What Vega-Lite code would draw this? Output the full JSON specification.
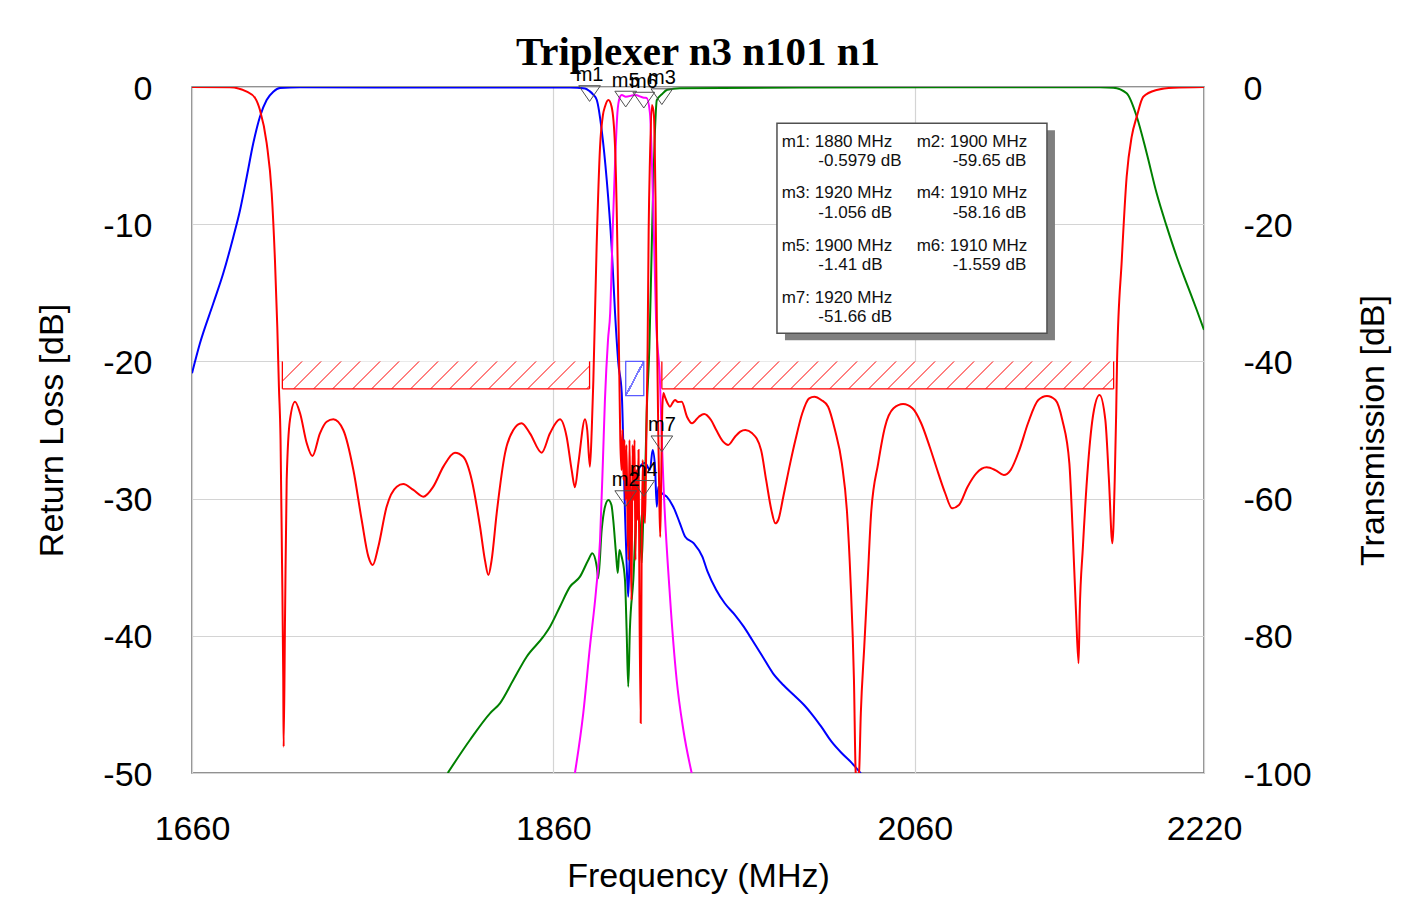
{
  "$schema": "https://vega.github.io/schema/vega-lite/v6.json",
  "width": 1012,
  "height": 686,
  "autosize": {"type": "none"},
  "padding": {"left": 192, "top": 87, "right": 212, "bottom": 145},
  "background": "#ffffff",
  "title": {"text": "Triplexer n3 n101 n1", "font": "Liberation Serif", "fontSize": 41, "fontWeight": "bold", "color": "#000000", "anchor": "middle", "baseline": "alphabetic", "offset": -41, "frame": "group"},
  "config": {
    "view": {"stroke": "#6e6e6e", "strokeWidth": 1.5},
    "axis": {"labelFont": "Liberation Sans", "labelFontSize": 34, "labelColor": "#000000", "titleFont": "Liberation Sans", "titleFontSize": 34, "titleFontWeight": "normal", "titleColor": "#000000", "ticks": false, "domain": false, "gridColor": "#d4d4d4", "gridWidth": 1.2, "labelFlush": false, "labelOverlap": false}
  },
  "datasets": {
    "mask": [
      {"band": "n3", "f1": 1710, "f2": 1880, "top": -20, "bot": -22},
      {"band": "n1", "f1": 1920, "f2": 2170, "top": -20, "bot": -22}
    ],
    "iso": [
      {"f1": 1900, "f2": 1910, "top": -40, "bot": -45}
    ],
    "box": [
      {"f1": 1983.7, "f2": 2133.1, "top": -2.65, "bot": -17.95}
    ],
    "readout": [
      {"t": "m1: 1880 MHz", "f": 1986.3, "rl": -3.99},
      {"t": "-0.5979 dB", "f": 2006.6, "rl": -5.37},
      {"t": "m2: 1900 MHz", "f": 2061.0, "rl": -3.99},
      {"t": "-59.65 dB", "f": 2080.9, "rl": -5.37},
      {"t": "m3: 1920 MHz", "f": 1986.3, "rl": -7.75},
      {"t": "-1.056 dB", "f": 2006.6, "rl": -9.16},
      {"t": "m4: 1910 MHz", "f": 2061.0, "rl": -7.75},
      {"t": "-58.16 dB", "f": 2080.9, "rl": -9.16},
      {"t": "m5: 1900 MHz", "f": 1986.3, "rl": -11.59},
      {"t": "-1.41 dB", "f": 2006.6, "rl": -13.0},
      {"t": "m6: 1910 MHz", "f": 2061.0, "rl": -11.59},
      {"t": "-1.559 dB", "f": 2080.9, "rl": -13.0},
      {"t": "m7: 1920 MHz", "f": 1986.3, "rl": -15.4},
      {"t": "-51.66 dB", "f": 2006.6, "rl": -16.79}
    ],
    "markers": [
      {"m": "m1", "f": 1880, "tr": -0.5979},
      {"m": "m2", "f": 1900, "tr": -59.65},
      {"m": "m3", "f": 1920, "tr": -1.056},
      {"m": "m4", "f": 1910, "tr": -58.16},
      {"m": "m5", "f": 1900, "tr": -1.41},
      {"m": "m6", "f": 1910, "tr": -1.559},
      {"m": "m7", "f": 1920, "tr": -51.66}
    ],
    "rl": [
      {"f": 1660, "rl": 0}, {"f": 1681, "rl": -0.02}, {"f": 1690.3, "rl": -0.34}, {"f": 1694.9, "rl": -0.8},
      {"f": 1697.6, "rl": -1.68}, {"f": 1701.3, "rl": -4.08}, {"f": 1704.1, "rl": -7.73}, {"f": 1705.9, "rl": -12.61},
      {"f": 1707.2, "rl": -17.49}, {"f": 1708.1, "rl": -21.87}, {"f": 1709, "rl": -25.73}, {"f": 1709.8, "rl": -34.48},
      {"f": 1710.5, "rl": -43.22}, {"f": 1710.7, "rl": -48.08}, {"f": 1711.5, "rl": -38.36}, {"f": 1712.4, "rl": -28.64},
      {"f": 1714.2, "rl": -24.27}, {"f": 1717, "rl": -22.94}, {"f": 1719.8, "rl": -23.78}, {"f": 1723.5, "rl": -25.97},
      {"f": 1726.6, "rl": -26.9}, {"f": 1730.8, "rl": -25.24}, {"f": 1734.5, "rl": -24.4}, {"f": 1738.2, "rl": -24.22},
      {"f": 1743.7, "rl": -25}, {"f": 1749.3, "rl": -27.92}, {"f": 1753.9, "rl": -31.56}, {"f": 1757.6, "rl": -34.23},
      {"f": 1760, "rl": -34.84}, {"f": 1763.1, "rl": -33.51}, {"f": 1767.7, "rl": -30.59}, {"f": 1773.3, "rl": -29.13},
      {"f": 1776.9, "rl": -28.94}, {"f": 1782.5, "rl": -29.37}, {"f": 1788, "rl": -29.86}, {"f": 1793.5, "rl": -29.13},
      {"f": 1799.1, "rl": -27.67}, {"f": 1805.5, "rl": -26.65}, {"f": 1810.1, "rl": -26.95}, {"f": 1814.8, "rl": -28.64},
      {"f": 1819.4, "rl": -32.05}, {"f": 1822.1, "rl": -34.48}, {"f": 1824, "rl": -35.57}, {"f": 1825.8, "rl": -34.48},
      {"f": 1828.6, "rl": -31.07}, {"f": 1833.2, "rl": -26.7}, {"f": 1837.8, "rl": -25}, {"f": 1842.4, "rl": -24.51},
      {"f": 1847, "rl": -25.24}, {"f": 1853.5, "rl": -26.65}, {"f": 1858.1, "rl": -25.24}, {"f": 1863.6, "rl": -24.22},
      {"f": 1867.3, "rl": -25.49}, {"f": 1870.1, "rl": -27.92}, {"f": 1871.9, "rl": -29.18}, {"f": 1873.8, "rl": -27.43},
      {"f": 1877.5, "rl": -24.22}, {"f": 1878.7, "rl": -25}, {"f": 1880.2, "rl": -27.67}, {"f": 1881.2, "rl": -25},
      {"f": 1882.1, "rl": -21.36}, {"f": 1883.9, "rl": -11.64}, {"f": 1885.8, "rl": -4.35}, {"f": 1887.4, "rl": -2.04},
      {"f": 1888.5, "rl": -1.44}, {"f": 1890.4, "rl": -0.95}, {"f": 1892.2, "rl": -1.44}, {"f": 1894.1, "rl": -4.35},
      {"f": 1895.4, "rl": -11.64}, {"f": 1896.5, "rl": -21.36}, {"f": 1897, "rl": -25.73}, {"f": 1897.7, "rl": -27.92},
      {"f": 1898.2, "rl": -25}, {"f": 1898.8, "rl": -28.64}, {"f": 1899.3, "rl": -25.73}, {"f": 1899.9, "rl": -30.1},
      {"f": 1900.4, "rl": -26.09}, {"f": 1901, "rl": -31.56}, {"f": 1901.5, "rl": -34.48}, {"f": 1902.1, "rl": -25.73},
      {"f": 1902.6, "rl": -31.56}, {"f": 1903.2, "rl": -37.39}, {"f": 1903.8, "rl": -26.09}, {"f": 1904.3, "rl": -30.1},
      {"f": 1904.9, "rl": -25.73}, {"f": 1905.4, "rl": -34.48}, {"f": 1906, "rl": -27.92}, {"f": 1906.5, "rl": -31.56},
      {"f": 1907.1, "rl": -26.46}, {"f": 1907.6, "rl": -37.39}, {"f": 1908.3, "rl": -46.36}, {"f": 1908.8, "rl": -34.48},
      {"f": 1909.4, "rl": -27.19}, {"f": 1909.9, "rl": -30.1}, {"f": 1910.7, "rl": -31.78}, {"f": 1911.4, "rl": -25.73},
      {"f": 1912.1, "rl": -19.17}, {"f": 1912.7, "rl": -10.42}, {"f": 1913.4, "rl": -5.32}, {"f": 1914.5, "rl": -1.31},
      {"f": 1915.6, "rl": -2.04}, {"f": 1916.5, "rl": -8.24}, {"f": 1917.3, "rl": -17.71}, {"f": 1918, "rl": -25},
      {"f": 1918.6, "rl": -30.1}, {"f": 1919.1, "rl": -32.8}, {"f": 1919.7, "rl": -27.92}, {"f": 1920.2, "rl": -23.54},
      {"f": 1920.9, "rl": -22.3}, {"f": 1921.7, "rl": -22.59}, {"f": 1923.1, "rl": -23.03}, {"f": 1924.5, "rl": -23.3},
      {"f": 1926.2, "rl": -22.96}, {"f": 1927.3, "rl": -22.81}, {"f": 1928.9, "rl": -22.96}, {"f": 1931, "rl": -22.94},
      {"f": 1933.9, "rl": -24.03}, {"f": 1936.7, "rl": -24.51}, {"f": 1940.5, "rl": -24.03}, {"f": 1943.4, "rl": -23.83},
      {"f": 1947.2, "rl": -24.27}, {"f": 1950.1, "rl": -25}, {"f": 1953.9, "rl": -25.85}, {"f": 1956.7, "rl": -26.09},
      {"f": 1960.5, "rl": -25.49}, {"f": 1963.4, "rl": -25.12}, {"f": 1966.2, "rl": -25}, {"f": 1970, "rl": -25.24},
      {"f": 1974.9, "rl": -26.46}, {"f": 1977.7, "rl": -28.64}, {"f": 1980.6, "rl": -30.83}, {"f": 1982.8, "rl": -31.8},
      {"f": 1984.4, "rl": -31.56}, {"f": 1987.2, "rl": -29.86}, {"f": 1991, "rl": -27.43}, {"f": 1993.9, "rl": -25.73},
      {"f": 1997.7, "rl": -23.78}, {"f": 2001.5, "rl": -22.69}, {"f": 2004.4, "rl": -22.57}, {"f": 2008.2, "rl": -22.81},
      {"f": 2012, "rl": -23.3}, {"f": 2015.8, "rl": -25}, {"f": 2019.6, "rl": -27.43}, {"f": 2022.5, "rl": -31.07},
      {"f": 2024.4, "rl": -35.93}, {"f": 2026.3, "rl": -43.22}, {"f": 2027.3, "rl": -50.02}, {"f": 2028.2, "rl": -50.5},
      {"f": 2029.1, "rl": -50.02}, {"f": 2030.1, "rl": -45.65}, {"f": 2032, "rl": -40.79}, {"f": 2033.9, "rl": -35.93},
      {"f": 2035.8, "rl": -31.07}, {"f": 2039.7, "rl": -27.43}, {"f": 2043.5, "rl": -24.76}, {"f": 2048.2, "rl": -23.42},
      {"f": 2053.5, "rl": -23.1}, {"f": 2058.7, "rl": -23.42}, {"f": 2063.5, "rl": -24.51}, {"f": 2068.2, "rl": -26.22},
      {"f": 2073, "rl": -28.16}, {"f": 2076.8, "rl": -29.61}, {"f": 2080.6, "rl": -30.71}, {"f": 2084.4, "rl": -30.47},
      {"f": 2089.2, "rl": -29.13}, {"f": 2094, "rl": -28.16}, {"f": 2099.7, "rl": -27.72}, {"f": 2104.5, "rl": -27.92},
      {"f": 2109.2, "rl": -28.28}, {"f": 2113, "rl": -27.92}, {"f": 2117.8, "rl": -26.46}, {"f": 2122.6, "rl": -24.51},
      {"f": 2128.3, "rl": -22.81}, {"f": 2133.1, "rl": -22.52}, {"f": 2137.8, "rl": -22.81}, {"f": 2141.6, "rl": -24.27},
      {"f": 2145.5, "rl": -27.43}, {"f": 2147.3, "rl": -32.29}, {"f": 2149.2, "rl": -38.36}, {"f": 2150.6, "rl": -42},
      {"f": 2151.2, "rl": -38.36}, {"f": 2153, "rl": -33.51}, {"f": 2155.9, "rl": -27.43}, {"f": 2158.8, "rl": -23.78},
      {"f": 2162.2, "rl": -22.45}, {"f": 2165.4, "rl": -24.27}, {"f": 2167.4, "rl": -28.64}, {"f": 2169.3, "rl": -33.26},
      {"f": 2170.6, "rl": -28.64}, {"f": 2171.4, "rl": -23.78}, {"f": 2171.9, "rl": -19.9}, {"f": 2174.5, "rl": -12.61},
      {"f": 2177.2, "rl": -6.54}, {"f": 2180, "rl": -3.62}, {"f": 2182.8, "rl": -2.16}, {"f": 2186.4, "rl": -0.71},
      {"f": 2193.8, "rl": -0.22}, {"f": 2203, "rl": -0.05}, {"f": 2220, "rl": 0}
    ],
    "tr": [
      {"s": "n3", "f": 1660, "tr": -41.73}, {"s": "n3", "f": 1664.4, "tr": -37.36}, {"s": "n3", "f": 1671.8, "tr": -31.53},
      {"s": "n3", "f": 1677.3, "tr": -27.16}, {"s": "n3", "f": 1682.9, "tr": -21.82}, {"s": "n3", "f": 1686.6, "tr": -17.93},
      {"s": "n3", "f": 1690.3, "tr": -13.08}, {"s": "n3", "f": 1693.9, "tr": -8.21}, {"s": "n3", "f": 1697.6, "tr": -4.33},
      {"s": "n3", "f": 1701.3, "tr": -1.9}, {"s": "n3", "f": 1705, "tr": -0.69}, {"s": "n3", "f": 1708.7, "tr": -0.15},
      {"s": "n3", "f": 1719.8, "tr": -0.04}, {"s": "n3", "f": 1802.8, "tr": -0.07}, {"s": "n3", "f": 1869.2, "tr": -0.07},
      {"s": "n3", "f": 1877.5, "tr": -0.22}, {"s": "n3", "f": 1880, "tr": -0.6}, {"s": "n3", "f": 1882, "tr": -1.1},
      {"s": "n3", "f": 1884, "tr": -1.9}, {"s": "n3", "f": 1886.7, "tr": -6.27}, {"s": "n3", "f": 1889.5, "tr": -13.56},
      {"s": "n3", "f": 1892.2, "tr": -23.28}, {"s": "n3", "f": 1894.1, "tr": -32.94}, {"s": "n3", "f": 1895.9, "tr": -40.23},
      {"s": "n3", "f": 1897.8, "tr": -44.61}, {"s": "n3", "f": 1898.7, "tr": -52.43}, {"s": "n3", "f": 1899.6, "tr": -62.1},
      {"s": "n3", "f": 1900.5, "tr": -69.39}, {"s": "n3", "f": 1901.4, "tr": -74.3}, {"s": "n3", "f": 1902.3, "tr": -67.01},
      {"s": "n3", "f": 1903.3, "tr": -59.72}, {"s": "n3", "f": 1904.6, "tr": -57.29}, {"s": "n3", "f": 1906.1, "tr": -56.27},
      {"s": "n3", "f": 1907.9, "tr": -55.35}, {"s": "n3", "f": 1910.7, "tr": -54.81}, {"s": "n3", "f": 1913.4, "tr": -55.83},
      {"s": "n3", "f": 1914.9, "tr": -52.92}, {"s": "n3", "f": 1916.2, "tr": -55.35}, {"s": "n3", "f": 1917.2, "tr": -61.18},
      {"s": "n3", "f": 1918, "tr": -58.26}, {"s": "n3", "f": 1919.9, "tr": -59.18}, {"s": "n3", "f": 1922.7, "tr": -59.72},
      {"s": "n3", "f": 1926.3, "tr": -61.18}, {"s": "n3", "f": 1930, "tr": -63.6}, {"s": "n3", "f": 1932.9, "tr": -65.55},
      {"s": "n3", "f": 1937.7, "tr": -66.52}, {"s": "n3", "f": 1942.4, "tr": -68.47}, {"s": "n3", "f": 1945.3, "tr": -70.66},
      {"s": "n3", "f": 1950.1, "tr": -73.32}, {"s": "n3", "f": 1954.8, "tr": -75.26}, {"s": "n3", "f": 1960.5, "tr": -76.97},
      {"s": "n3", "f": 1965.3, "tr": -78.67}, {"s": "n3", "f": 1970, "tr": -80.61}, {"s": "n3", "f": 1975.8, "tr": -83.05},
      {"s": "n3", "f": 1981.5, "tr": -85.47}, {"s": "n3", "f": 1987.2, "tr": -87.17}, {"s": "n3", "f": 1993, "tr": -88.63},
      {"s": "n3", "f": 1998.7, "tr": -90.09}, {"s": "n3", "f": 2003.4, "tr": -91.55}, {"s": "n3", "f": 2008.2, "tr": -93.25},
      {"s": "n3", "f": 2013.9, "tr": -95.44}, {"s": "n3", "f": 2019.6, "tr": -97.13}, {"s": "n3", "f": 2025.3, "tr": -98.59},
      {"s": "n3", "f": 2030.1, "tr": -100.05},
      {"s": "n1", "f": 1801.5, "tr": -100}, {"s": "n1", "f": 1813.8, "tr": -95.19}, {"s": "n1", "f": 1824.9, "tr": -91.3},
      {"s": "n1", "f": 1830.4, "tr": -89.84}, {"s": "n1", "f": 1837.8, "tr": -86.44}, {"s": "n1", "f": 1845.2, "tr": -83.05},
      {"s": "n1", "f": 1854.4, "tr": -80.13}, {"s": "n1", "f": 1858.1, "tr": -78.67}, {"s": "n1", "f": 1863.6, "tr": -75.76},
      {"s": "n1", "f": 1869.2, "tr": -72.84}, {"s": "n1", "f": 1874.7, "tr": -71.38}, {"s": "n1", "f": 1879.3, "tr": -68.95},
      {"s": "n1", "f": 1881.5, "tr": -67.97}, {"s": "n1", "f": 1884, "tr": -69.93}, {"s": "n1", "f": 1884.8, "tr": -71.62},
      {"s": "n1", "f": 1886.7, "tr": -64.58}, {"s": "n1", "f": 1888.5, "tr": -61.22}, {"s": "n1", "f": 1890.4, "tr": -60.2},
      {"s": "n1", "f": 1892.1, "tr": -60.93}, {"s": "n1", "f": 1893.1, "tr": -63.12}, {"s": "n1", "f": 1894.6, "tr": -67.93},
      {"s": "n1", "f": 1895.6, "tr": -70.85}, {"s": "n1", "f": 1896.5, "tr": -67.49}, {"s": "n1", "f": 1897.8, "tr": -68.51},
      {"s": "n1", "f": 1899.6, "tr": -71.87}, {"s": "n1", "f": 1900.5, "tr": -79.15}, {"s": "n1", "f": 1901.4, "tr": -87.42},
      {"s": "n1", "f": 1902.3, "tr": -79.15}, {"s": "n1", "f": 1904.2, "tr": -71.87}, {"s": "n1", "f": 1906.1, "tr": -61.95},
      {"s": "n1", "f": 1907, "tr": -61.66}, {"s": "n1", "f": 1907.9, "tr": -63.85}, {"s": "n1", "f": 1908.8, "tr": -69.39},
      {"s": "n1", "f": 1909.7, "tr": -63.12}, {"s": "n1", "f": 1910.7, "tr": -57.29}, {"s": "n1", "f": 1911.6, "tr": -47.52},
      {"s": "n1", "f": 1913.1, "tr": -37.86}, {"s": "n1", "f": 1914.4, "tr": -23.28}, {"s": "n1", "f": 1915.3, "tr": -13.56},
      {"s": "n1", "f": 1916.2, "tr": -6.27}, {"s": "n1", "f": 1917.2, "tr": -1.9}, {"s": "n1", "f": 1920, "tr": -1.056},
      {"s": "n1", "f": 1923, "tr": -0.4}, {"s": "n1", "f": 1930, "tr": -0.19}, {"s": "n1", "f": 1996.4, "tr": -0.07},
      {"s": "n1", "f": 2162.5, "tr": -0.04}, {"s": "n1", "f": 2169.8, "tr": -0.1}, {"s": "n1", "f": 2177.2, "tr": -0.92},
      {"s": "n1", "f": 2182.8, "tr": -4.33}, {"s": "n1", "f": 2188.3, "tr": -9.66}, {"s": "n1", "f": 2193.8, "tr": -15.5},
      {"s": "n1", "f": 2199.4, "tr": -20.36}, {"s": "n1", "f": 2204.9, "tr": -24.74}, {"s": "n1", "f": 2210.4, "tr": -28.62},
      {"s": "n1", "f": 2216, "tr": -32.51}, {"s": "n1", "f": 2220, "tr": -35.4},
      {"s": "n101", "f": 1871.9, "tr": -100}, {"s": "n101", "f": 1876.5, "tr": -91.3}, {"s": "n101", "f": 1880.2, "tr": -81.59},
      {"s": "n101", "f": 1883.6, "tr": -73.32}, {"s": "n101", "f": 1885.8, "tr": -66.03}, {"s": "n101", "f": 1887.4, "tr": -54.37},
      {"s": "n101", "f": 1888.5, "tr": -45.63}, {"s": "n101", "f": 1890.2, "tr": -36.88}, {"s": "n101", "f": 1891.4, "tr": -32.94},
      {"s": "n101", "f": 1892.8, "tr": -20.85}, {"s": "n101", "f": 1894.1, "tr": -11.08}, {"s": "n101", "f": 1895.4, "tr": -3.79},
      {"s": "n101", "f": 1896.6, "tr": -1.6}, {"s": "n101", "f": 1897.8, "tr": -1.17}, {"s": "n101", "f": 1900, "tr": -1.41},
      {"s": "n101", "f": 1905.1, "tr": -1.17}, {"s": "n101", "f": 1910, "tr": -1.559}, {"s": "n101", "f": 1911.6, "tr": -1.6},
      {"s": "n101", "f": 1913.4, "tr": -3.79}, {"s": "n101", "f": 1915.3, "tr": -18.37}, {"s": "n101", "f": 1916.8, "tr": -33.97},
      {"s": "n101", "f": 1919, "tr": -43.15}, {"s": "n101", "f": 1920, "tr": -51.66}, {"s": "n101", "f": 1920.8, "tr": -57.29},
      {"s": "n101", "f": 1924.5, "tr": -74.3}, {"s": "n101", "f": 1928.2, "tr": -86.44}, {"s": "n101", "f": 1931.9, "tr": -93.73},
      {"s": "n101", "f": 1936.5, "tr": -100}
    ]
  },
  "resolve": {"scale": {"x": "independent", "y": "independent"}, "axis": {"x": "independent", "y": "independent"}},
  "layer": [
    {
      "data": {"name": "rl"},
      "mark": {"type": "line", "strokeWidth": 0, "opacity": 0},
      "encoding": {
        "x": {"field": "f", "type": "quantitative", "scale": {"domain": [1660, 2220], "nice": false, "zero": false},
              "axis": {"orient": "bottom", "title": "Frequency (MHz)", "values": [1660, 1860, 2060, 2220], "format": "d", "labelPadding": 39, "titlePadding": 13, "grid": true, "labelFlush": false}},
        "y": {"field": "rl", "type": "quantitative", "scale": {"domain": [-50, 0], "nice": false, "zero": false},
              "axis": {"orient": "left", "title": "Return Loss [dB]", "values": [-50, -40, -30, -20, -10, 0], "labelExpr": "datum.value < 0 ? '-' + abs(datum.value) : '' + datum.value", "labelPadding": 40, "labelOffset": 2, "titlePadding": 33, "grid": true, "labelFlush": false}}
      }
    },
    {
      "data": {"name": "tr"},
      "mark": {"type": "line", "strokeWidth": 0, "opacity": 0},
      "encoding": {
        "x": {"field": "f", "type": "quantitative", "scale": {"domain": [1660, 2220], "nice": false, "zero": false}, "axis": null},
        "y": {"field": "tr", "type": "quantitative", "scale": {"domain": [-100, 0], "nice": false, "zero": false},
              "axis": {"orient": "right", "title": "Transmission [dB]", "values": [-100, -80, -60, -40, -20, 0], "labelExpr": "datum.value < 0 ? '-' + abs(datum.value) : '' + datum.value", "labelPadding": 39, "labelOffset": 2, "titleAngle": 270, "titleBaseline": "top", "titlePadding": 45, "grid": false, "labelFlush": false}}
      }
    },
    {
      "data": {"name": "mask"},
      "transform": [{"filter": "datum.band == 'n3'"}],
      "mark": {"type": "rect", "fill": {"gradient": "linear", "x1": 0, "y1": 0, "x2": 1.0806, "y2": 0.0964, "stops": [
        {"offset": 0, "color": "#ffffff"},
        {"offset": 0.0553, "color": "#ffffff"}, {"offset": 0.0553, "color": "#ff8080"}, {"offset": 0.0613, "color": "#ff8080"}, {"offset": 0.0613, "color": "#ffffff"},
        {"offset": 0.1136, "color": "#ffffff"}, {"offset": 0.1136, "color": "#ff8080"}, {"offset": 0.1196, "color": "#ff8080"}, {"offset": 0.1196, "color": "#ffffff"},
        {"offset": 0.1719, "color": "#ffffff"}, {"offset": 0.1719, "color": "#ff8080"}, {"offset": 0.1779, "color": "#ff8080"}, {"offset": 0.1779, "color": "#ffffff"},
        {"offset": 0.2302, "color": "#ffffff"}, {"offset": 0.2302, "color": "#ff8080"}, {"offset": 0.2362, "color": "#ff8080"}, {"offset": 0.2362, "color": "#ffffff"},
        {"offset": 0.2885, "color": "#ffffff"}, {"offset": 0.2885, "color": "#ff8080"}, {"offset": 0.2945, "color": "#ff8080"}, {"offset": 0.2945, "color": "#ffffff"},
        {"offset": 0.3468, "color": "#ffffff"}, {"offset": 0.3468, "color": "#ff8080"}, {"offset": 0.3528, "color": "#ff8080"}, {"offset": 0.3528, "color": "#ffffff"},
        {"offset": 0.4051, "color": "#ffffff"}, {"offset": 0.4051, "color": "#ff8080"}, {"offset": 0.4111, "color": "#ff8080"}, {"offset": 0.4111, "color": "#ffffff"},
        {"offset": 0.4634, "color": "#ffffff"}, {"offset": 0.4634, "color": "#ff8080"}, {"offset": 0.4694, "color": "#ff8080"}, {"offset": 0.4694, "color": "#ffffff"},
        {"offset": 0.5217, "color": "#ffffff"}, {"offset": 0.5217, "color": "#ff8080"}, {"offset": 0.5277, "color": "#ff8080"}, {"offset": 0.5277, "color": "#ffffff"},
        {"offset": 0.58, "color": "#ffffff"}, {"offset": 0.58, "color": "#ff8080"}, {"offset": 0.586, "color": "#ff8080"}, {"offset": 0.586, "color": "#ffffff"},
        {"offset": 0.6383, "color": "#ffffff"}, {"offset": 0.6383, "color": "#ff8080"}, {"offset": 0.6443, "color": "#ff8080"}, {"offset": 0.6443, "color": "#ffffff"},
        {"offset": 0.6966, "color": "#ffffff"}, {"offset": 0.6966, "color": "#ff8080"}, {"offset": 0.7026, "color": "#ff8080"}, {"offset": 0.7026, "color": "#ffffff"},
        {"offset": 0.7549, "color": "#ffffff"}, {"offset": 0.7549, "color": "#ff8080"}, {"offset": 0.7609, "color": "#ff8080"}, {"offset": 0.7609, "color": "#ffffff"},
        {"offset": 0.8132, "color": "#ffffff"}, {"offset": 0.8132, "color": "#ff8080"}, {"offset": 0.8192, "color": "#ff8080"}, {"offset": 0.8192, "color": "#ffffff"},
        {"offset": 0.8715, "color": "#ffffff"}, {"offset": 0.8715, "color": "#ff8080"}, {"offset": 0.8775, "color": "#ff8080"}, {"offset": 0.8775, "color": "#ffffff"},
        {"offset": 0.9298, "color": "#ffffff"}, {"offset": 0.9298, "color": "#ff8080"}, {"offset": 0.9358, "color": "#ff8080"}, {"offset": 0.9358, "color": "#ffffff"},
        {"offset": 0.9881, "color": "#ffffff"}, {"offset": 0.9881, "color": "#ff8080"}, {"offset": 0.9941, "color": "#ff8080"}, {"offset": 0.9941, "color": "#ffffff"},
        {"offset": 1, "color": "#ffffff"}
      ]}},
      "encoding": {
        "x": {"field": "f1", "type": "quantitative", "scale": {"domain": [1660, 2220], "nice": false, "zero": false}, "axis": null},
        "x2": {"field": "f2"},
        "y": {"field": "top", "type": "quantitative", "scale": {"domain": [-50, 0], "nice": false, "zero": false}, "axis": null},
        "y2": {"field": "bot"}
      }
    },
    {
      "data": {"name": "mask"},
      "transform": [{"filter": "datum.band == 'n1'"}],
      "mark": {"type": "rect", "fill": {"gradient": "linear", "x1": 0, "y1": 0, "x2": 1.0568, "y2": 0.0641, "stops": [
        {"offset": 0, "color": "#ffffff"},
        {"offset": 0.0385, "color": "#ffffff"}, {"offset": 0.0385, "color": "#ff8080"}, {"offset": 0.0429, "color": "#ff8080"}, {"offset": 0.0429, "color": "#ffffff"},
        {"offset": 0.0792, "color": "#ffffff"}, {"offset": 0.0792, "color": "#ff8080"}, {"offset": 0.0836, "color": "#ff8080"}, {"offset": 0.0836, "color": "#ffffff"},
        {"offset": 0.1199, "color": "#ffffff"}, {"offset": 0.1199, "color": "#ff8080"}, {"offset": 0.1243, "color": "#ff8080"}, {"offset": 0.1243, "color": "#ffffff"},
        {"offset": 0.1606, "color": "#ffffff"}, {"offset": 0.1606, "color": "#ff8080"}, {"offset": 0.165, "color": "#ff8080"}, {"offset": 0.165, "color": "#ffffff"},
        {"offset": 0.2013, "color": "#ffffff"}, {"offset": 0.2013, "color": "#ff8080"}, {"offset": 0.2057, "color": "#ff8080"}, {"offset": 0.2057, "color": "#ffffff"},
        {"offset": 0.242, "color": "#ffffff"}, {"offset": 0.242, "color": "#ff8080"}, {"offset": 0.2464, "color": "#ff8080"}, {"offset": 0.2464, "color": "#ffffff"},
        {"offset": 0.2827, "color": "#ffffff"}, {"offset": 0.2827, "color": "#ff8080"}, {"offset": 0.2871, "color": "#ff8080"}, {"offset": 0.2871, "color": "#ffffff"},
        {"offset": 0.3234, "color": "#ffffff"}, {"offset": 0.3234, "color": "#ff8080"}, {"offset": 0.3278, "color": "#ff8080"}, {"offset": 0.3278, "color": "#ffffff"},
        {"offset": 0.3641, "color": "#ffffff"}, {"offset": 0.3641, "color": "#ff8080"}, {"offset": 0.3685, "color": "#ff8080"}, {"offset": 0.3685, "color": "#ffffff"},
        {"offset": 0.4048, "color": "#ffffff"}, {"offset": 0.4048, "color": "#ff8080"}, {"offset": 0.4092, "color": "#ff8080"}, {"offset": 0.4092, "color": "#ffffff"},
        {"offset": 0.4455, "color": "#ffffff"}, {"offset": 0.4455, "color": "#ff8080"}, {"offset": 0.4499, "color": "#ff8080"}, {"offset": 0.4499, "color": "#ffffff"},
        {"offset": 0.4862, "color": "#ffffff"}, {"offset": 0.4862, "color": "#ff8080"}, {"offset": 0.4906, "color": "#ff8080"}, {"offset": 0.4906, "color": "#ffffff"},
        {"offset": 0.5269, "color": "#ffffff"}, {"offset": 0.5269, "color": "#ff8080"}, {"offset": 0.5313, "color": "#ff8080"}, {"offset": 0.5313, "color": "#ffffff"},
        {"offset": 0.5676, "color": "#ffffff"}, {"offset": 0.5676, "color": "#ff8080"}, {"offset": 0.572, "color": "#ff8080"}, {"offset": 0.572, "color": "#ffffff"},
        {"offset": 0.6083, "color": "#ffffff"}, {"offset": 0.6083, "color": "#ff8080"}, {"offset": 0.6127, "color": "#ff8080"}, {"offset": 0.6127, "color": "#ffffff"},
        {"offset": 0.649, "color": "#ffffff"}, {"offset": 0.649, "color": "#ff8080"}, {"offset": 0.6534, "color": "#ff8080"}, {"offset": 0.6534, "color": "#ffffff"},
        {"offset": 0.6897, "color": "#ffffff"}, {"offset": 0.6897, "color": "#ff8080"}, {"offset": 0.6941, "color": "#ff8080"}, {"offset": 0.6941, "color": "#ffffff"},
        {"offset": 0.7304, "color": "#ffffff"}, {"offset": 0.7304, "color": "#ff8080"}, {"offset": 0.7348, "color": "#ff8080"}, {"offset": 0.7348, "color": "#ffffff"},
        {"offset": 0.7711, "color": "#ffffff"}, {"offset": 0.7711, "color": "#ff8080"}, {"offset": 0.7755, "color": "#ff8080"}, {"offset": 0.7755, "color": "#ffffff"},
        {"offset": 0.8118, "color": "#ffffff"}, {"offset": 0.8118, "color": "#ff8080"}, {"offset": 0.8162, "color": "#ff8080"}, {"offset": 0.8162, "color": "#ffffff"},
        {"offset": 0.8525, "color": "#ffffff"}, {"offset": 0.8525, "color": "#ff8080"}, {"offset": 0.8569, "color": "#ff8080"}, {"offset": 0.8569, "color": "#ffffff"},
        {"offset": 0.8932, "color": "#ffffff"}, {"offset": 0.8932, "color": "#ff8080"}, {"offset": 0.8976, "color": "#ff8080"}, {"offset": 0.8976, "color": "#ffffff"},
        {"offset": 0.9339, "color": "#ffffff"}, {"offset": 0.9339, "color": "#ff8080"}, {"offset": 0.9383, "color": "#ff8080"}, {"offset": 0.9383, "color": "#ffffff"},
        {"offset": 0.9746, "color": "#ffffff"}, {"offset": 0.9746, "color": "#ff8080"}, {"offset": 0.979, "color": "#ff8080"}, {"offset": 0.979, "color": "#ffffff"},
        {"offset": 1, "color": "#ffffff"}
      ]}},
      "encoding": {
        "x": {"field": "f1", "type": "quantitative", "scale": {"domain": [1660, 2220], "nice": false, "zero": false}, "axis": null},
        "x2": {"field": "f2"},
        "y": {"field": "top", "type": "quantitative", "scale": {"domain": [-50, 0], "nice": false, "zero": false}, "axis": null},
        "y2": {"field": "bot"}
      }
    },
    {
      "data": {"name": "mask"},
      "mark": {"type": "rule", "color": "#ff0000", "strokeWidth": 1.3},
      "encoding": {
        "x": {"field": "f1", "type": "quantitative", "scale": {"domain": [1660, 2220], "nice": false, "zero": false}, "axis": null},
        "x2": {"field": "f2"},
        "y": {"field": "bot", "type": "quantitative", "scale": {"domain": [-50, 0], "nice": false, "zero": false}, "axis": null}
      }
    },
    {
      "data": {"name": "mask"},
      "mark": {"type": "rule", "color": "#ff0000", "strokeWidth": 1.3},
      "encoding": {
        "x": {"field": "f1", "type": "quantitative", "scale": {"domain": [1660, 2220], "nice": false, "zero": false}, "axis": null},
        "y": {"field": "top", "type": "quantitative", "scale": {"domain": [-50, 0], "nice": false, "zero": false}, "axis": null},
        "y2": {"field": "bot"}
      }
    },
    {
      "data": {"name": "mask"},
      "mark": {"type": "rule", "color": "#ff0000", "strokeWidth": 1.3},
      "encoding": {
        "x": {"field": "f2", "type": "quantitative", "scale": {"domain": [1660, 2220], "nice": false, "zero": false}, "axis": null},
        "y": {"field": "top", "type": "quantitative", "scale": {"domain": [-50, 0], "nice": false, "zero": false}, "axis": null},
        "y2": {"field": "bot"}
      }
    },
    {
      "data": {"name": "iso"},
      "mark": {"type": "rect", "fill": {"gradient": "linear", "x1": 0, "y1": 0, "x2": 1, "y2": 1, "stops": [
        {"offset": 0, "color": "#ffffff"}, {"offset": 0.47, "color": "#ffffff"}, {"offset": 0.47, "color": "#7a7aff"},
        {"offset": 0.53, "color": "#7a7aff"}, {"offset": 0.53, "color": "#ffffff"}, {"offset": 1, "color": "#ffffff"}
      ]}, "stroke": "#5a5aff", "strokeWidth": 1.3},
      "encoding": {
        "x": {"field": "f1", "type": "quantitative", "scale": {"domain": [1660, 2220], "nice": false, "zero": false}, "axis": null},
        "x2": {"field": "f2"},
        "y": {"field": "top", "type": "quantitative", "scale": {"domain": [-100, 0], "nice": false, "zero": false}, "axis": null},
        "y2": {"field": "bot"}
      }
    },
    {
      "data": {"name": "tr"},
      "mark": {"type": "line", "strokeWidth": 2, "interpolate": "monotone", "clip": true},
      "encoding": {
        "x": {"field": "f", "type": "quantitative", "scale": {"domain": [1660, 2220], "nice": false, "zero": false}, "axis": null},
        "y": {"field": "tr", "type": "quantitative", "scale": {"domain": [-100, 0], "nice": false, "zero": false}, "axis": null},
        "color": {"field": "s", "type": "nominal", "scale": {"domain": ["n3", "n1", "n101"], "range": ["#0000ff", "#008000", "#ff00ff"]}, "legend": null}
      }
    },
    {
      "data": {"name": "rl"},
      "mark": {"type": "line", "strokeWidth": 2, "color": "#ff0000", "interpolate": "monotone", "clip": true},
      "encoding": {
        "x": {"field": "f", "type": "quantitative", "scale": {"domain": [1660, 2220], "nice": false, "zero": false}, "axis": null},
        "y": {"field": "rl", "type": "quantitative", "scale": {"domain": [-50, 0], "nice": false, "zero": false}, "axis": null}
      }
    },
    {
      "data": {"name": "box"},
      "mark": {"type": "rect", "fill": "#7f7f7f", "xOffset": 8, "x2Offset": 8, "yOffset": 7, "y2Offset": 7},
      "encoding": {
        "x": {"field": "f1", "type": "quantitative", "scale": {"domain": [1660, 2220], "nice": false, "zero": false}, "axis": null},
        "x2": {"field": "f2"},
        "y": {"field": "top", "type": "quantitative", "scale": {"domain": [-50, 0], "nice": false, "zero": false}, "axis": null},
        "y2": {"field": "bot"}
      }
    },
    {
      "data": {"name": "box"},
      "mark": {"type": "rect", "fill": "#ffffff", "stroke": "#505050", "strokeWidth": 1.5},
      "encoding": {
        "x": {"field": "f1", "type": "quantitative", "scale": {"domain": [1660, 2220], "nice": false, "zero": false}, "axis": null},
        "x2": {"field": "f2"},
        "y": {"field": "top", "type": "quantitative", "scale": {"domain": [-50, 0], "nice": false, "zero": false}, "axis": null},
        "y2": {"field": "bot"}
      }
    },
    {
      "data": {"name": "readout"},
      "mark": {"type": "text", "align": "left", "baseline": "middle", "fontSize": 17, "font": "Liberation Sans", "color": "#111111"},
      "encoding": {
        "x": {"field": "f", "type": "quantitative", "scale": {"domain": [1660, 2220], "nice": false, "zero": false}, "axis": null},
        "y": {"field": "rl", "type": "quantitative", "scale": {"domain": [-50, 0], "nice": false, "zero": false}, "axis": null},
        "text": {"field": "t", "type": "nominal"}
      }
    },
    {
      "data": {"name": "markers"},
      "mark": {"type": "point", "shape": "M-1,-0.5L1,-0.5L0,0.95Z", "size": 471, "filled": false, "stroke": "#505050", "strokeWidth": 1, "opacity": 1, "clip": false},
      "encoding": {
        "x": {"field": "f", "type": "quantitative", "scale": {"domain": [1660, 2220], "nice": false, "zero": false}, "axis": null},
        "y": {"field": "tr", "type": "quantitative", "scale": {"domain": [-100, 0], "nice": false, "zero": false}, "axis": null}
      }
    },
    {
      "data": {"name": "markers"},
      "mark": {"type": "text", "dy": -10, "baseline": "alphabetic", "align": "center", "fontSize": 20, "font": "Liberation Sans", "color": "#000000", "clip": false},
      "encoding": {
        "x": {"field": "f", "type": "quantitative", "scale": {"domain": [1660, 2220], "nice": false, "zero": false}, "axis": null},
        "y": {"field": "tr", "type": "quantitative", "scale": {"domain": [-100, 0], "nice": false, "zero": false}, "axis": null},
        "text": {"field": "m", "type": "nominal"}
      }
    }
  ]
}
